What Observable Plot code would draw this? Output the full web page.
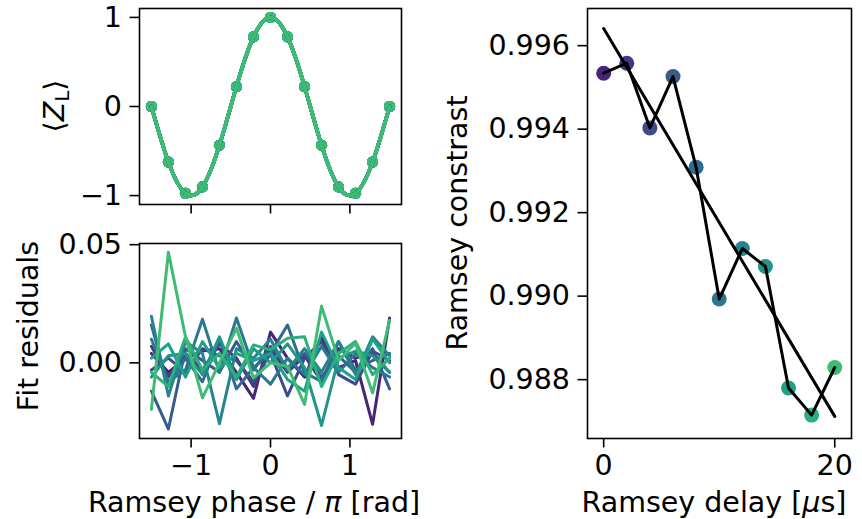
<!DOCTYPE html>
<html><head><meta charset="utf-8">
<script src="https://cdn.jsdelivr.net/npm/d3@7"></script>
<script src="https://cdn.jsdelivr.net/npm/@observablehq/plot@0.6"></script>
<style>
body{margin:0;background:#fff;}
#fig{position:relative;width:862px;height:519px;overflow:hidden;background:#fff;}
#fig svg{position:absolute;left:0;top:0;}
</style></head><body><div id="fig"></div>
<script>
// ---- data ----
const phase = [-1.5, -1.286, -1.071, -0.857, -0.643, -0.429, -0.214, 0, 0.214, 0.429, 0.643, 0.857, 1.071, 1.286, 1.5];
const zL = [0, -0.623, -0.975, -0.901, -0.434, 0.223, 0.782, 1, 0.782, 0.223, -0.434, -0.901, -0.975, -0.623, 0];
const residuals = [
  [0.004, -0.004, 0.002, 0.005, 0.006, -0.004, -0.015, 0.013, 0.002, -0.006, 0.011, -0.002, 0.001, -0.026, 0.019],
  [0.007, -0.006, 0.004, -0.003, 0.008, 0.002, -0.010, 0.006, -0.004, 0.003, -0.008, 0.006, 0.002, 0.004, -0.004],
  [-0.003, 0.002, -0.004, 0.006, 0.003, 0.001, -0.008, 0.004, -0.014, 0.002, 0.009, -0.005, -0.009, 0.005, 0.001],
  [-0.012, -0.028, 0.006, 0.001, -0.004, 0.009, -0.003, 0.007, -0.002, 0.004, -0.006, 0.003, -0.004, 0.006, -0.011],
  [0.016, -0.010, 0.002, -0.008, 0.010, -0.011, -0.002, 0.004, 0.016, -0.004, -0.008, 0.009, -0.003, 0.001, 0.004],
  [0.010, -0.008, -0.003, 0.0185, -0.004, 0.019, -0.002, -0.009, 0.002, -0.005, 0.007, -0.004, 0.004, -0.002, -0.006],
  [0.0197, -0.014, 0.009, 0.004, -0.0257, 0.006, 0.002, 0.010, -0.003, 0.006, -0.004, 0.009, -0.005, 0.011, 0.003],
  [-0.006, 0.003, 0.004, -0.005, 0.011, -0.007, 0.006, 0.0, 0.008, -0.002, -0.0265, 0.002, 0.005, 0.003, -0.004],
  [0.002, 0.008, -0.006, 0.009, -0.002, 0.004, 0.001, 0.004, -0.007, -0.012, 0.013, -0.002, -0.007, 0.010, 0.0],
  [-0.004, -0.010, 0.011, -0.003, 0.004, -0.006, 0.0076, 0.0055, 0.0104, 0.011, -0.010, 0.004, 0.009, -0.005, 0.002],
  [-0.0197, 0.0468, 0.011, -0.0148, 0.0, 0.0146, -0.0064, 0.0, -0.0015, -0.0176, 0.024, 0.001, 0.0083, -0.0127, 0.018]
];
const delay = [0, 2, 4, 6, 8, 10, 12, 14, 16, 18, 20];
const contrast = [0.99534, 0.99558, 0.99403, 0.99526, 0.99309, 0.98993, 0.99114, 0.99071, 0.98780, 0.98715, 0.98829];
const fitDelay = [0, 20];
const fitContrast = [0.99641, 0.98712];
const seriesColors = ["#482475", "#453781", "#3e4a89", "#375b8d", "#306a8e", "#2a788e", "#25848e", "#1f958b", "#1fa188", "#2ab07f", "#3fbc73"];
const phaseTicks = [-1, 0, 1];
const zTicks = [-1, 0, 1];
const resTicks = [0, 0.05];
const delayTicks = [0, 20];
const contrastTicks = [0.988, 0.990, 0.992, 0.994, 0.996];

// ---- derived tables ----
const seriesIdx = delay.map((d, i) => i);
const topRows = seriesIdx.flatMap(s => phase.map((p, i) => ({s, p, z: zL[i]})));
const resRows = seriesIdx.flatMap(s => phase.map((p, i) => ({s, p, r: residuals[s][i]})));
const ramRows = delay.map((d, i) => ({s: i, d, c: contrast[i]}));
const fitRows = fitDelay.map((d, i) => ({d, c: fitContrast[i]}));

const W = 862, H = 519, FS = 28.5, TS = 9.5, SW = 1.6;
const baseStyle = {fontFamily: "'DejaVu Sans', sans-serif", fontSize: FS + "px", background: "transparent", overflow: "visible", color: "black"};
const colorScale = {type: "ordinal", domain: seriesIdx, range: seriesColors};
const intFmt = d3.format("d");
const fig = document.getElementById("fig");

function frameMargins(l, r, t, b) {
  return {width: W, height: H, marginLeft: l, marginRight: W - r, marginTop: t, marginBottom: H - b};
}

// ---- top-left: <Z_L> ----
const p1 = Plot.plot({
  ...frameMargins(139, 401, 8, 204),
  style: baseStyle,
  x: {domain: [-1.65, 1.65]},
  y: {domain: [-1.1, 1.1]},
  color: colorScale,
  marks: [
    Plot.dot(topRows, {x: "p", y: "z", fill: "s", r: 5.5, stroke: "none"}),
    Plot.line(topRows, {x: "p", y: "z", z: "s", stroke: "s", strokeWidth: 3.5, curve: "natural"}),
    Plot.frame({stroke: "black", strokeWidth: SW}),
    Plot.axisY({ticks: zTicks, tickSize: TS, tickPadding: 8, tickFormat: intFmt, strokeWidth: SW, fontSize: FS, label: null}),
    Plot.axisX({ticks: phaseTicks, tickSize: TS, tickFormat: () => "", strokeWidth: SW, label: null})
  ]
});
fig.appendChild(p1);

// ---- bottom-left: residuals ----
const p2 = Plot.plot({
  ...frameMargins(139, 401, 243, 438),
  style: baseStyle,
  x: {domain: [-1.65, 1.65]},
  y: {domain: [-0.032, 0.0505]},
  color: colorScale,
  marks: [
    Plot.line(resRows, {x: "p", y: "r", z: "s", stroke: "s", strokeWidth: 3}),
    Plot.frame({stroke: "black", strokeWidth: SW}),
    Plot.axisY({ticks: resTicks, tickSize: TS, tickPadding: 8, tickFormat: d3.format(".2f"), strokeWidth: SW, fontSize: FS, label: null}),
    Plot.axisX({ticks: phaseTicks, tickSize: TS, tickPadding: 7, tickFormat: intFmt, strokeWidth: SW, fontSize: FS, label: null})
  ]
});
fig.appendChild(p2);

// ---- right: Ramsey contrast ----
const p3 = Plot.plot({
  ...frameMargins(587, 851, 8, 438),
  style: baseStyle,
  x: {domain: [-1.4, 21.45]},
  y: {domain: [0.98659, 0.99689]},
  color: colorScale,
  marks: [
    Plot.dot(ramRows, {x: "d", y: "c", fill: "s", r: 7.5, stroke: "none"}),
    Plot.line(ramRows, {x: "d", y: "c", stroke: "black", strokeWidth: 3}),
    Plot.line(fitRows, {x: "d", y: "c", stroke: "black", strokeWidth: 3}),
    Plot.frame({stroke: "black", strokeWidth: SW}),
    Plot.axisY({ticks: contrastTicks, tickSize: TS, tickPadding: 8, tickFormat: d3.format(".3f"), strokeWidth: SW, fontSize: FS, label: null}),
    Plot.axisX({ticks: delayTicks, tickSize: TS, tickPadding: 7, tickFormat: intFmt, strokeWidth: SW, fontSize: FS, label: null})
  ]
});
fig.appendChild(p3);

// ---- axis titles (real text, with math styling) ----
function label(svg, x, y, rot, parts) {
  const t = d3.select(svg).append("text")
    .attr("transform", `translate(${x},${y})` + (rot ? ` rotate(${rot})` : ""))
    .attr("text-anchor", "middle")
    .attr("fill", "black")
    .style("font-family", "'DejaVu Sans', sans-serif")
    .style("font-size", FS + "px");
  for (const p of parts) {
    const ts = t.append("tspan").text(p.t);
    if (p.italic) ts.style("font-style", "italic");
    if (p.size) ts.style("font-size", p.size + "px");
    if (p.dy) ts.attr("dy", p.dy);
  }
}
label(p1, 64, 106, -90, [{t: "⟨"}, {t: "Z", italic: true}, {t: "L", size: FS * 0.7, dy: 5}, {t: "⟩", dy: -5}]);
label(p2, 38, 326, -90, [{t: "Fit residuals"}]);
label(p2, 254, 512, 0, [{t: "Ramsey phase / "}, {t: "π", italic: true}, {t: " [rad]"}]);
label(p3, 467, 223, -90, [{t: "Ramsey constrast"}]);
label(p3, 714, 512, 0, [{t: "Ramsey delay ["}, {t: "μ", italic: true}, {t: "s]"}]);
</script>
</body></html>
